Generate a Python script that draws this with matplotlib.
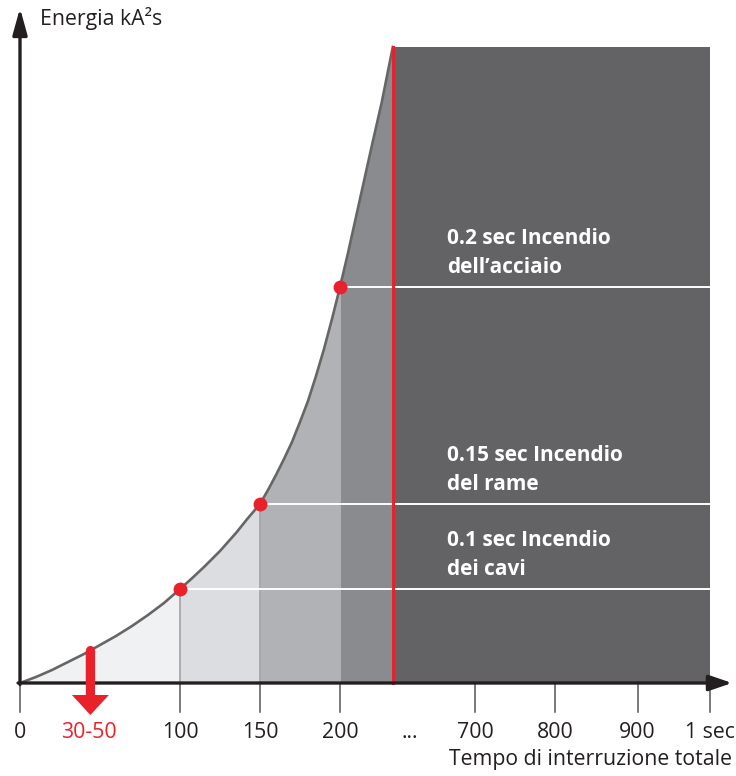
import matplotlib
matplotlib.use("Agg")
import matplotlib.pyplot as plt
from matplotlib.patches import FancyArrowPatch, Rectangle

plt.rcParams['font.family'] = ['Open Sans', 'DejaVu Sans']

# curve (time in ms, energy in arbitrary units)
time_ms = [0, 10, 20, 30, 40, 50, 60, 70, 80, 90, 100, 107, 115, 125, 135, 142, 150,
           155, 160, 165, 170, 175, 180, 185, 190, 195, 200, 205, 210, 215, 220,
           226, 230, 233]
energy = [0, 6, 13, 21, 29, 38, 47, 57, 68, 80, 94, 104, 116, 132, 150, 164, 179,
          193, 208, 224, 241, 261, 282, 307, 334, 364, 396, 430, 466, 502, 538,
          580, 612, 636]

# marked points (fire thresholds)
mark_t = [100, 150, 200]
mark_e = [94, 179, 396]
mark_text = [["0.1 sec Incendio", "dei cavi"],
             ["0.15 sec Incendio", "del rame"],
             ["0.2 sec Incendio", "dell\u2019acciaio"]]

# x axis: broken after 200 ms
tick_labels = ["0", "100", "150", "200", "700", "800", "900", "1 sec"]
tick_pos = [0, 100, 150, 200, 284.4, 334.4, 386, 431.25]
dots_pos = 243.75
range_label = "30-50"
range_pos = 44

limit_t = 233      # red line
top_e = 636

# region shades under the curve
bounds = [0, 100, 150, 200, limit_t]
shades = ["#f0f1f3", "#dcdde0", "#b1b2b6", "#8a8b8f"]
dark = "#636365"
red = "#e8212b"
ink = "#231f20"

fig = plt.figure(figsize=(7.36, 7.76), dpi=100)
ax = fig.add_axes([0, 0, 1, 1])
ax.set_xlim(-12.5, 447.5)
ax.set_ylim(-93, 683)
ax.axis("off")

# shaded bands under curve
for (a, b), c in zip(zip(bounds[:-1], bounds[1:]), shades):
    xs = [t for t in time_ms if a <= t <= b]
    ys = [e for t, e in zip(time_ms, energy) if a <= t <= b]
    ax.fill_between(xs, 0, ys, color=c, lw=0, zorder=1)

# dark area after the limit
ax.add_patch(Rectangle((limit_t, 0), tick_pos[-1] - limit_t, top_e,
                       color=dark, lw=0, zorder=1))

# band separators
for t, e in zip(mark_t[:2], mark_e[:2]):
    ax.plot([t, t], [0, e], color="#a0a1a4", lw=1.2, zorder=2)

# white level lines
for t, e in zip(mark_t, mark_e):
    ax.plot([t, tick_pos[-1]], [e, e], color="white", lw=1.4, zorder=3)

# curve
ax.plot(time_ms, energy, color="#666666", lw=1.9, zorder=4,
        solid_joinstyle="round")

# red limit line
ax.plot([limit_t, limit_t], [0, top_e], color=red, lw=2.1, zorder=5)

# dots
ax.plot(mark_t, mark_e, "o", color=red, ms=10, mew=0, zorder=6)

# labels in dark area
for lines, e in zip(mark_text, mark_e):
    ax.text(266.9, e + 43, lines[0], color="white", fontsize=15,
            fontweight="bold", va="baseline", zorder=7)
    ax.text(266.9, e + 14, lines[1], color="white", fontsize=15,
            fontweight="bold", va="baseline", zorder=7)

# ticks
for p in tick_pos:
    ax.plot([p, p], [0, -29], color="#555555", lw=1.1, zorder=2)
for p, lab in zip(tick_pos, tick_labels):
    ax.text(p, -55, lab, ha="center", va="baseline", fontsize=15.3, color=ink)
ax.text(dots_pos, -55, "...", ha="center", va="baseline", fontsize=15.3, color=ink)
ax.text(range_pos - 1, -55, range_label, ha="center", va="baseline",
        fontsize=15.3, color=red)

# axes with arrow heads
ax.annotate("", xy=(0, 675), xytext=(0, -1.5),
            arrowprops=dict(arrowstyle="-|>,head_length=0.8,head_width=0.22",
                            lw=2.4, color=ink, shrinkA=0, shrinkB=0,
                            mutation_scale=20), zorder=8)
ax.annotate("", xy=(445, 0), xytext=(-1.2, 0),
            arrowprops=dict(arrowstyle="-|>,head_length=0.7,head_width=0.24",
                            lw=2.4, color=ink, shrinkA=0, shrinkB=0,
                            mutation_scale=20), zorder=8)

# red arrow at 30-50
ax.add_patch(FancyArrowPatch((range_pos, 32), (range_pos, -32),
                             arrowstyle="simple,head_length=0.72,head_width=1.33,tail_width=0.33",
                             mutation_scale=20, color=red, lw=0,
                             shrinkA=0, shrinkB=0, zorder=9))
ax.plot([range_pos, range_pos], [33, 0], color=red, lw=6.6,
        solid_capstyle="round", zorder=9)

ax.text(12.5, 658, "Energia kA\u00b2s", fontsize=15.3, color=ink, va="baseline")
ax.text(445, -82, "Tempo di interruzione totale", fontsize=15.3, color=ink,
        ha="right", va="baseline")

fig.savefig("out.png", dpi=100)
